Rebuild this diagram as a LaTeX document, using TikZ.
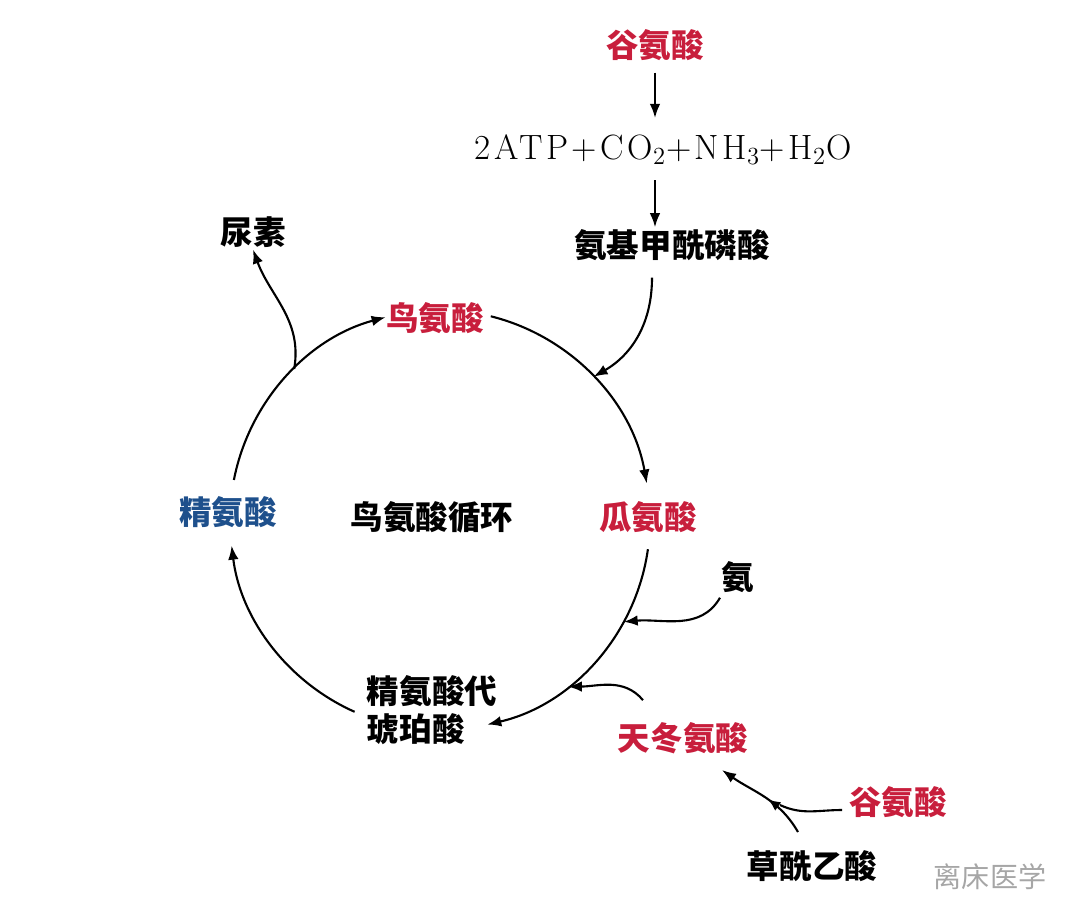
\documentclass[tikz,border=0pt]{standalone}
\usepackage{fontspec}
\newfontfamily\cjk{Noto Sans CJK SC}
\newfontfamily\wide[LetterSpace=10]{Latin Modern Roman}
\usetikzlibrary{arrows.meta,decorations.markings}
\definecolor{redacid}{RGB}{200,30,60}
\definecolor{blueacid}{RGB}{30,80,140}

\begin{document}
\begin{tikzpicture}[x=0.02cm,y=-0.02cm,
            every node/.style={font=\cjk\bfseries\fontsize{18.5}{22}\selectfont,inner sep=1pt},
            red node/.style={text=redacid},
            blue node/.style={text=blueacid},
            flow/.style={line width=1.2pt,-{Latex[length=8pt,width=6pt]}},
            midarrow/.style={postaction={decorate},decoration={markings,
                mark=at position 0.45 with {\arrow{Latex[length=7pt,width=6pt]}}}}]
    \useasboundingbox (0,0) rectangle (1080,924);
    % substances
    \node[red node] (glu) at (655,45) {谷氨酸};
    \node[font=\wide\fontsize{20}{24}\selectfont] (atp) at (663,150)
        {2ATP+CO\textsubscript{2}+NH\textsubscript{3}+H\textsubscript{2}O};
    \node (cp) at (672,245) {氨基甲酰磷酸};
    \node (urea) at (253,232) {尿素};
    \node[red node] (orn) at (435,318) {鸟氨酸};
    \node[red node] (cit) at (648,517) {瓜氨酸};
    \node[blue node] (arg) at (228,512) {精氨酸};
    \node (cycle) at (432,517) {鸟氨酸循环};
    \node (nh) at (738,577) {氨};
    \node[align=left] (as) at (432,710) {精氨酸代\\琥珀酸};
    \node[red node] (asp) at (683,738) {天冬氨酸};
    \node[red node] (glu2) at (898,802) {谷氨酸};
    \node (oaa) at (812,866) {草酰乙酸};
    \node[text=black!35,font=\cjk\fontsize{16}{18}\selectfont] (mark) at (990,877) {离床医学};
    % cycle
    \coordinate (c) at (440,520);
    \draw[flow] (c) ++(169:4.2cm) arc[start angle=169,end angle=105,radius=4.2cm];
    \draw[flow] (c) ++(76:4.2cm) arc[start angle=76,end angle=10,radius=4.2cm];
    \draw[flow] (c) ++(-8:4.2cm) arc[start angle=-8,end angle=-77,radius=4.2cm];
    \draw[flow] (c) ++(-114:4.2cm) arc[start angle=-114,end angle=-173,radius=4.2cm];
    \path (c) ++(43:4.2cm) coordinate (jcp);
    \path (c) ++(-29:4.2cm) coordinate (jnh);
    \path (c) ++(-52.5:4.2cm) coordinate (jasp);
    \path (c) ++(134:4.2cm) coordinate (jurea);
    % side reactions
    \draw[flow] (glu.south -| 655,0) ++(0,10) -- (655,118);
    \draw[flow] (655,180) -- (cp.north -| 655,0);
    \draw[flow] (cp.south) ++(-20,15) to[out=-90,in=30] (jcp);
    \draw[flow] (nh.south) ++(-18,3) to[out=-120,in=5] (jnh);
    \draw[flow] (asp.north) ++(-40,-20) to[out=130,in=0] (jasp);
    \draw[flow] (jurea) to[out=80,in=-70] (urea.south);
    \coordinate (jglu) at (780,805);
    \draw[line width=1.2pt] (glu2.west) ++(-5,8) to[out=180,in=-25] (jglu);
    \draw[flow,midarrow] (798,832) to[out=120,in=-35] (722,770);
\end{tikzpicture}
\end{document}
